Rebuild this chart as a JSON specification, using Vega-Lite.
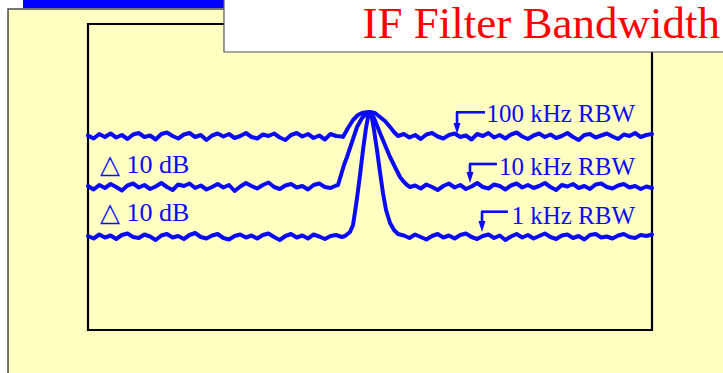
{
  "$schema": "https://vega.github.io/schema/vega-lite/v6.json",
  "width": 564,
  "height": 306,
  "autosize": {"type": "none"},
  "padding": {"left": 88, "top": 24, "right": 71, "bottom": 43},
  "background": "white",
  "config": {"view": {"stroke": null}},
  "datasets": {
    "rbw100": [
      {"f":-5.0,"dB":-22.3},{"f":-4.9,"dB":-22.9},{"f":-4.8,"dB":-22.0},{"f":-4.7,"dB":-22.6},{"f":-4.6,"dB":-21.9},{"f":-4.5,"dB":-22.7},{"f":-4.4,"dB":-22.2},{"f":-4.3,"dB":-23.0},{"f":-4.2,"dB":-22.1},{"f":-4.1,"dB":-21.8},
      {"f":-4.0,"dB":-22.6},{"f":-3.9,"dB":-22.3},{"f":-3.8,"dB":-23.1},{"f":-3.7,"dB":-22.0},{"f":-3.6,"dB":-21.7},{"f":-3.5,"dB":-22.4},{"f":-3.4,"dB":-22.9},{"f":-3.3,"dB":-22.1},{"f":-3.2,"dB":-21.8},{"f":-3.1,"dB":-22.6},
      {"f":-3.0,"dB":-22.2},{"f":-2.9,"dB":-23.2},{"f":-2.8,"dB":-22.3},{"f":-2.7,"dB":-21.9},{"f":-2.6,"dB":-22.5},{"f":-2.5,"dB":-22.0},{"f":-2.4,"dB":-22.8},{"f":-2.3,"dB":-22.4},{"f":-2.2,"dB":-21.8},{"f":-2.1,"dB":-22.6},
      {"f":-2.0,"dB":-22.9},{"f":-1.9,"dB":-22.1},{"f":-1.8,"dB":-22.4},{"f":-1.7,"dB":-21.9},{"f":-1.6,"dB":-22.7},{"f":-1.5,"dB":-23.2},{"f":-1.4,"dB":-22.2},{"f":-1.3,"dB":-21.8},{"f":-1.2,"dB":-22.5},{"f":-1.1,"dB":-22.0},
      {"f":-1.0,"dB":-22.8},{"f":-0.9,"dB":-22.3},{"f":-0.8,"dB":-23.1},{"f":-0.7,"dB":-22.0},{"f":-0.6,"dB":-22.4},{"f":-0.5,"dB":-22.5},
      {"f":-0.479,"dB":-22.6},{"f":-0.39,"dB":-20.8},{"f":-0.301,"dB":-19.2},{"f":-0.213,"dB":-18.2},{"f":-0.142,"dB":-17.8},{"f":-0.07,"dB":-17.65},{"f":0,"dB":-17.6},
      {"f":0.089,"dB":-17.8},{"f":0.177,"dB":-18.6},{"f":0.266,"dB":-19.4},{"f":0.355,"dB":-20.6},{"f":0.426,"dB":-21.6},{"f":0.496,"dB":-22.4},
      {"f":0.6,"dB":-22.0},{"f":0.7,"dB":-22.7},{"f":0.8,"dB":-22.2},{"f":0.9,"dB":-23.0},{"f":1.0,"dB":-22.1},{"f":1.1,"dB":-21.8},{"f":1.2,"dB":-22.5},{"f":1.3,"dB":-22.9},{"f":1.4,"dB":-22.2},{"f":1.5,"dB":-21.9},
      {"f":1.6,"dB":-22.6},{"f":1.7,"dB":-22.3},{"f":1.8,"dB":-23.1},{"f":1.9,"dB":-22.0},{"f":2.0,"dB":-22.4},{"f":2.1,"dB":-21.8},{"f":2.2,"dB":-22.7},{"f":2.3,"dB":-22.2},{"f":2.4,"dB":-22.9},{"f":2.5,"dB":-22.1},
      {"f":2.6,"dB":-21.7},{"f":2.7,"dB":-22.5},{"f":2.8,"dB":-23.0},{"f":2.9,"dB":-22.3},{"f":3.0,"dB":-21.9},{"f":3.1,"dB":-22.6},{"f":3.2,"dB":-22.1},{"f":3.3,"dB":-22.8},{"f":3.4,"dB":-22.4},{"f":3.5,"dB":-21.8},
      {"f":3.6,"dB":-22.6},{"f":3.7,"dB":-23.2},{"f":3.8,"dB":-22.2},{"f":3.9,"dB":-22.0},{"f":4.0,"dB":-22.7},{"f":4.1,"dB":-22.3},{"f":4.2,"dB":-21.9},{"f":4.3,"dB":-22.5},{"f":4.4,"dB":-23.0},{"f":4.5,"dB":-22.1},
      {"f":4.6,"dB":-22.4},{"f":4.7,"dB":-21.8},{"f":4.8,"dB":-22.6},{"f":4.9,"dB":-22.2},{"f":5.0,"dB":-22.0}
    ],
    "rbw10": [
      {"f":-5.0,"dB":-32.4},{"f":-4.9,"dB":-33.1},{"f":-4.8,"dB":-32.2},{"f":-4.7,"dB":-32.8},{"f":-4.6,"dB":-32.0},{"f":-4.5,"dB":-32.6},{"f":-4.4,"dB":-33.3},{"f":-4.3,"dB":-32.3},{"f":-4.2,"dB":-31.9},{"f":-4.1,"dB":-32.7},
      {"f":-4.0,"dB":-32.2},{"f":-3.9,"dB":-33.0},{"f":-3.8,"dB":-32.5},{"f":-3.7,"dB":-31.8},{"f":-3.6,"dB":-32.6},{"f":-3.5,"dB":-33.2},{"f":-3.4,"dB":-32.1},{"f":-3.3,"dB":-32.4},{"f":-3.2,"dB":-31.9},{"f":-3.1,"dB":-32.8},
      {"f":-3.0,"dB":-32.3},{"f":-2.9,"dB":-33.1},{"f":-2.8,"dB":-32.6},{"f":-2.7,"dB":-32.0},{"f":-2.6,"dB":-32.7},{"f":-2.5,"dB":-32.2},{"f":-2.4,"dB":-33.4},{"f":-2.3,"dB":-32.5},{"f":-2.2,"dB":-31.8},{"f":-2.1,"dB":-32.4},
      {"f":-2.0,"dB":-32.9},{"f":-1.9,"dB":-32.2},{"f":-1.8,"dB":-31.7},{"f":-1.7,"dB":-32.6},{"f":-1.6,"dB":-33.0},{"f":-1.5,"dB":-32.3},{"f":-1.4,"dB":-32.0},{"f":-1.3,"dB":-32.7},{"f":-1.2,"dB":-32.4},{"f":-1.1,"dB":-33.1},
      {"f":-1.0,"dB":-32.2},{"f":-0.9,"dB":-31.9},{"f":-0.8,"dB":-32.6},{"f":-0.7,"dB":-32.8},{"f":-0.6,"dB":-32.3},
      {"f":-0.567,"dB":-32.2},{"f":-0.514,"dB":-30.2},{"f":-0.461,"dB":-28.2},{"f":-0.408,"dB":-26.6},{"f":-0.319,"dB":-23.6},{"f":-0.23,"dB":-20.6},{"f":-0.142,"dB":-18.8},{"f":-0.071,"dB":-18.0},{"f":0,"dB":-17.6},
      {"f":0.071,"dB":-18.8},{"f":0.177,"dB":-21.8},{"f":0.266,"dB":-24.2},{"f":0.355,"dB":-26.6},{"f":0.443,"dB":-28.6},{"f":0.532,"dB":-30.6},{"f":0.603,"dB":-31.6},{"f":0.656,"dB":-32.2},{"f":0.709,"dB":-32.6},
      {"f":0.8,"dB":-32.3},{"f":0.9,"dB":-32.9},{"f":1.0,"dB":-32.1},{"f":1.1,"dB":-32.6},{"f":1.2,"dB":-33.2},{"f":1.3,"dB":-32.4},{"f":1.4,"dB":-31.9},{"f":1.5,"dB":-32.7},{"f":1.6,"dB":-32.2},{"f":1.7,"dB":-33.0},
      {"f":1.8,"dB":-32.5},{"f":1.9,"dB":-31.8},{"f":2.0,"dB":-32.6},{"f":2.1,"dB":-32.9},{"f":2.2,"dB":-32.1},{"f":2.3,"dB":-32.4},{"f":2.4,"dB":-33.1},{"f":2.5,"dB":-32.3},{"f":2.6,"dB":-31.9},{"f":2.7,"dB":-32.7},
      {"f":2.8,"dB":-32.2},{"f":2.9,"dB":-32.8},{"f":3.0,"dB":-32.4},{"f":3.1,"dB":-31.8},{"f":3.2,"dB":-32.6},{"f":3.3,"dB":-33.2},{"f":3.4,"dB":-32.2},{"f":3.5,"dB":-32.5},{"f":3.6,"dB":-32.0},{"f":3.7,"dB":-32.8},
      {"f":3.8,"dB":-32.4},{"f":3.9,"dB":-33.0},{"f":4.0,"dB":-32.1},{"f":4.1,"dB":-31.9},{"f":4.2,"dB":-32.6},{"f":4.3,"dB":-32.9},{"f":4.4,"dB":-32.3},{"f":4.5,"dB":-32.0},{"f":4.6,"dB":-32.7},{"f":4.7,"dB":-32.4},
      {"f":4.8,"dB":-33.0},{"f":4.9,"dB":-32.5},{"f":5.0,"dB":-32.8}
    ],
    "rbw1": [
      {"f":-5.0,"dB":-42.4},{"f":-4.9,"dB":-42.9},{"f":-4.8,"dB":-42.1},{"f":-4.7,"dB":-42.7},{"f":-4.6,"dB":-42.3},{"f":-4.5,"dB":-43.0},{"f":-4.4,"dB":-42.2},{"f":-4.3,"dB":-41.9},{"f":-4.2,"dB":-42.6},{"f":-4.1,"dB":-42.8},
      {"f":-4.0,"dB":-42.1},{"f":-3.9,"dB":-42.5},{"f":-3.8,"dB":-43.2},{"f":-3.7,"dB":-42.3},{"f":-3.6,"dB":-42.0},{"f":-3.5,"dB":-42.7},{"f":-3.4,"dB":-42.4},{"f":-3.3,"dB":-43.0},{"f":-3.2,"dB":-42.2},{"f":-3.1,"dB":-41.8},
      {"f":-3.0,"dB":-42.6},{"f":-2.9,"dB":-42.9},{"f":-2.8,"dB":-42.3},{"f":-2.7,"dB":-42.0},{"f":-2.6,"dB":-42.8},{"f":-2.5,"dB":-43.1},{"f":-2.4,"dB":-42.4},{"f":-2.3,"dB":-42.1},{"f":-2.2,"dB":-42.7},{"f":-2.1,"dB":-42.3},
      {"f":-2.0,"dB":-42.9},{"f":-1.9,"dB":-42.2},{"f":-1.8,"dB":-41.9},{"f":-1.7,"dB":-42.6},{"f":-1.6,"dB":-43.2},{"f":-1.5,"dB":-42.4},{"f":-1.4,"dB":-42.0},{"f":-1.3,"dB":-42.7},{"f":-1.2,"dB":-42.3},{"f":-1.1,"dB":-42.9},
      {"f":-1.0,"dB":-42.1},{"f":-0.9,"dB":-42.5},{"f":-0.8,"dB":-43.0},{"f":-0.7,"dB":-42.4},{"f":-0.6,"dB":-42.2},{"f":-0.5,"dB":-42.6},
      {"f":-0.443,"dB":-42.4},{"f":-0.355,"dB":-41.6},{"f":-0.301,"dB":-40.2},{"f":-0.266,"dB":-37.6},{"f":-0.23,"dB":-34.8},{"f":-0.177,"dB":-30.2},{"f":-0.124,"dB":-25.2},{"f":-0.071,"dB":-20.8},{"f":-0.035,"dB":-18.6},{"f":0,"dB":-17.6},
      {"f":0.035,"dB":-18.8},{"f":0.071,"dB":-21.2},{"f":0.124,"dB":-25.2},{"f":0.177,"dB":-29.6},{"f":0.23,"dB":-33.8},{"f":0.284,"dB":-37.2},{"f":0.355,"dB":-39.8},{"f":0.426,"dB":-41.2},{"f":0.496,"dB":-42.0},
      {"f":0.6,"dB":-42.3},{"f":0.7,"dB":-42.8},{"f":0.8,"dB":-42.1},{"f":0.9,"dB":-42.6},{"f":1.0,"dB":-43.1},{"f":1.1,"dB":-42.4},{"f":1.2,"dB":-42.0},{"f":1.3,"dB":-42.7},{"f":1.4,"dB":-42.3},{"f":1.5,"dB":-42.9},
      {"f":1.6,"dB":-42.2},{"f":1.7,"dB":-41.9},{"f":1.8,"dB":-42.6},{"f":1.9,"dB":-43.0},{"f":2.0,"dB":-42.4},{"f":2.1,"dB":-42.1},{"f":2.2,"dB":-42.8},{"f":2.3,"dB":-42.3},{"f":2.4,"dB":-43.2},{"f":2.5,"dB":-42.5},
      {"f":2.6,"dB":-42.0},{"f":2.7,"dB":-42.7},{"f":2.8,"dB":-42.2},{"f":2.9,"dB":-42.9},{"f":3.0,"dB":-42.4},{"f":3.1,"dB":-41.9},{"f":3.2,"dB":-42.6},{"f":3.3,"dB":-43.0},{"f":3.4,"dB":-42.3},{"f":3.5,"dB":-42.1},
      {"f":3.6,"dB":-42.8},{"f":3.7,"dB":-42.4},{"f":3.8,"dB":-43.1},{"f":3.9,"dB":-42.2},{"f":4.0,"dB":-42.0},{"f":4.1,"dB":-42.7},{"f":4.2,"dB":-42.5},{"f":4.3,"dB":-42.9},{"f":4.4,"dB":-42.3},{"f":4.5,"dB":-42.0},
      {"f":4.6,"dB":-42.6},{"f":4.7,"dB":-42.8},{"f":4.8,"dB":-42.2},{"f":4.9,"dB":-42.4},{"f":5.0,"dB":-42.1}
    ]
  },
  "layer": [
    {
      "data": {"values": [{"f": -6.418, "f2": 6.6, "dB": 3.0, "dB2": -72}]},
      "mark": {"type": "rect", "fill": "#FFFFC2", "stroke": "#4a4a4a", "strokeWidth": 1.5},
      "encoding": {
        "x": {"field": "f", "type": "quantitative", "scale": {"domain": [-5, 5], "nice": false, "zero": false}, "axis": null},
        "x2": {"field": "f2"},
        "y": {"field": "dB", "type": "quantitative", "scale": {"domain": [-61.2, 0], "nice": false, "zero": false}, "axis": null},
        "y2": {"field": "dB2"}
      }
    },
    {
      "data": {"values": [{"f": -6.152, "f2": -2.55, "dB": 6.0, "dB2": 3.2}]},
      "mark": {"type": "rect", "fill": "#0000FF"},
      "encoding": {
        "x": {"field": "f", "type": "quantitative", "axis": null},
        "x2": {"field": "f2"},
        "y": {"field": "dB", "type": "quantitative", "axis": null},
        "y2": {"field": "dB2"}
      }
    },
    {
      "data": {"values": [{"f": -5, "f2": 5, "dB": 0, "dB2": -61.2}]},
      "mark": {"type": "rect", "fill": "white", "fillOpacity": 0, "stroke": "black", "strokeWidth": 2.2},
      "encoding": {
        "x": {"field": "f", "type": "quantitative", "axis": null},
        "x2": {"field": "f2"},
        "y": {"field": "dB", "type": "quantitative", "axis": null},
        "y2": {"field": "dB2"}
      }
    },
    {
      "data": {"name": "rbw100"},
      "mark": {"type": "line", "color": "#0a0af5", "strokeWidth": 4, "strokeJoin": "round", "strokeCap": "round"},
      "encoding": {
        "x": {"field": "f", "type": "quantitative", "axis": null},
        "y": {"field": "dB", "type": "quantitative", "axis": null}
      }
    },
    {
      "data": {"name": "rbw10"},
      "mark": {"type": "line", "color": "#0a0af5", "strokeWidth": 4, "strokeJoin": "round", "strokeCap": "round"},
      "encoding": {
        "x": {"field": "f", "type": "quantitative", "axis": null},
        "y": {"field": "dB", "type": "quantitative", "axis": null}
      }
    },
    {
      "data": {"name": "rbw1"},
      "mark": {"type": "line", "color": "#0a0af5", "strokeWidth": 4, "strokeJoin": "round", "strokeCap": "round"},
      "encoding": {
        "x": {"field": "f", "type": "quantitative", "axis": null},
        "y": {"field": "dB", "type": "quantitative", "axis": null}
      }
    },
    {
      "data": {"values": [
        {"f": 1.525, "f2": 2.04, "dB": -17.66, "dB2": -17.66},
        {"f": 1.543, "f2": 1.543, "dB": -17.66, "dB2": -20.4},
        {"f": 1.755, "f2": 2.25, "dB": -28.0, "dB2": -28.0},
        {"f": 1.773, "f2": 1.773, "dB": -28.0, "dB2": -30.2},
        {"f": 1.968, "f2": 2.445, "dB": -37.54, "dB2": -37.54},
        {"f": 1.986, "f2": 1.986, "dB": -37.54, "dB2": -40.0}
      ]},
      "mark": {"type": "rule", "color": "#0a0af5", "strokeWidth": 2.6},
      "encoding": {
        "x": {"field": "f", "type": "quantitative", "axis": null},
        "x2": {"field": "f2"},
        "y": {"field": "dB", "type": "quantitative", "axis": null},
        "y2": {"field": "dB2"}
      }
    },
    {
      "data": {"values": [
        {"f": 1.543, "dB": -20.9},
        {"f": 1.773, "dB": -30.7},
        {"f": 1.986, "dB": -40.5}
      ]},
      "mark": {"type": "point", "shape": "M-0.64,-1L0.64,-1L0,1Z", "size": 121, "filled": true, "color": "#0a0af5", "opacity": 1},
      "encoding": {
        "x": {"field": "f", "type": "quantitative", "axis": null},
        "y": {"field": "dB", "type": "quantitative", "axis": null}
      }
    },
    {
      "data": {"values": [
        {"label": "100 kHz RBW", "f": 4.70, "dB": -19.66},
        {"label": "10 kHz RBW", "f": 4.70, "dB": -30.2},
        {"label": "1 kHz RBW", "f": 4.70, "dB": -40.0}
      ]},
      "mark": {"type": "text", "align": "right", "baseline": "alphabetic", "font": "Liberation Serif", "fontSize": 25, "color": "#0a0af5"},
      "encoding": {
        "x": {"field": "f", "type": "quantitative", "axis": null},
        "y": {"field": "dB", "type": "quantitative", "axis": null},
        "text": {"field": "label"}
      }
    },
    {
      "data": {"values": [
        {"label": "△ 10 dB", "f": -4.787, "dB": -29.74},
        {"label": "△ 10 dB", "f": -4.787, "dB": -39.4}
      ]},
      "mark": {"type": "text", "align": "left", "baseline": "alphabetic", "font": "Liberation Serif", "fontSize": 26, "color": "#0a0af5"},
      "encoding": {
        "x": {"field": "f", "type": "quantitative", "axis": null},
        "y": {"field": "dB", "type": "quantitative", "axis": null},
        "text": {"field": "label"}
      }
    },
    {
      "data": {"values": [{"f": -2.589, "f2": 6.6, "dB": 6.0, "dB2": -5.6}]},
      "mark": {"type": "rect", "fill": "white", "stroke": "#555555", "strokeWidth": 1.2},
      "encoding": {
        "x": {"field": "f", "type": "quantitative", "axis": null},
        "x2": {"field": "f2"},
        "y": {"field": "dB", "type": "quantitative", "axis": null},
        "y2": {"field": "dB2"}
      }
    },
    {
      "data": {"values": [{"label": "IF Filter Bandwidth", "f": 6.206, "dB": -2.8}]},
      "mark": {"type": "text", "align": "right", "baseline": "alphabetic", "font": "Liberation Serif", "fontSize": 45, "color": "#FF0000"},
      "encoding": {
        "x": {"field": "f", "type": "quantitative", "axis": null},
        "y": {"field": "dB", "type": "quantitative", "axis": null},
        "text": {"field": "label"}
      }
    }
  ]
}
